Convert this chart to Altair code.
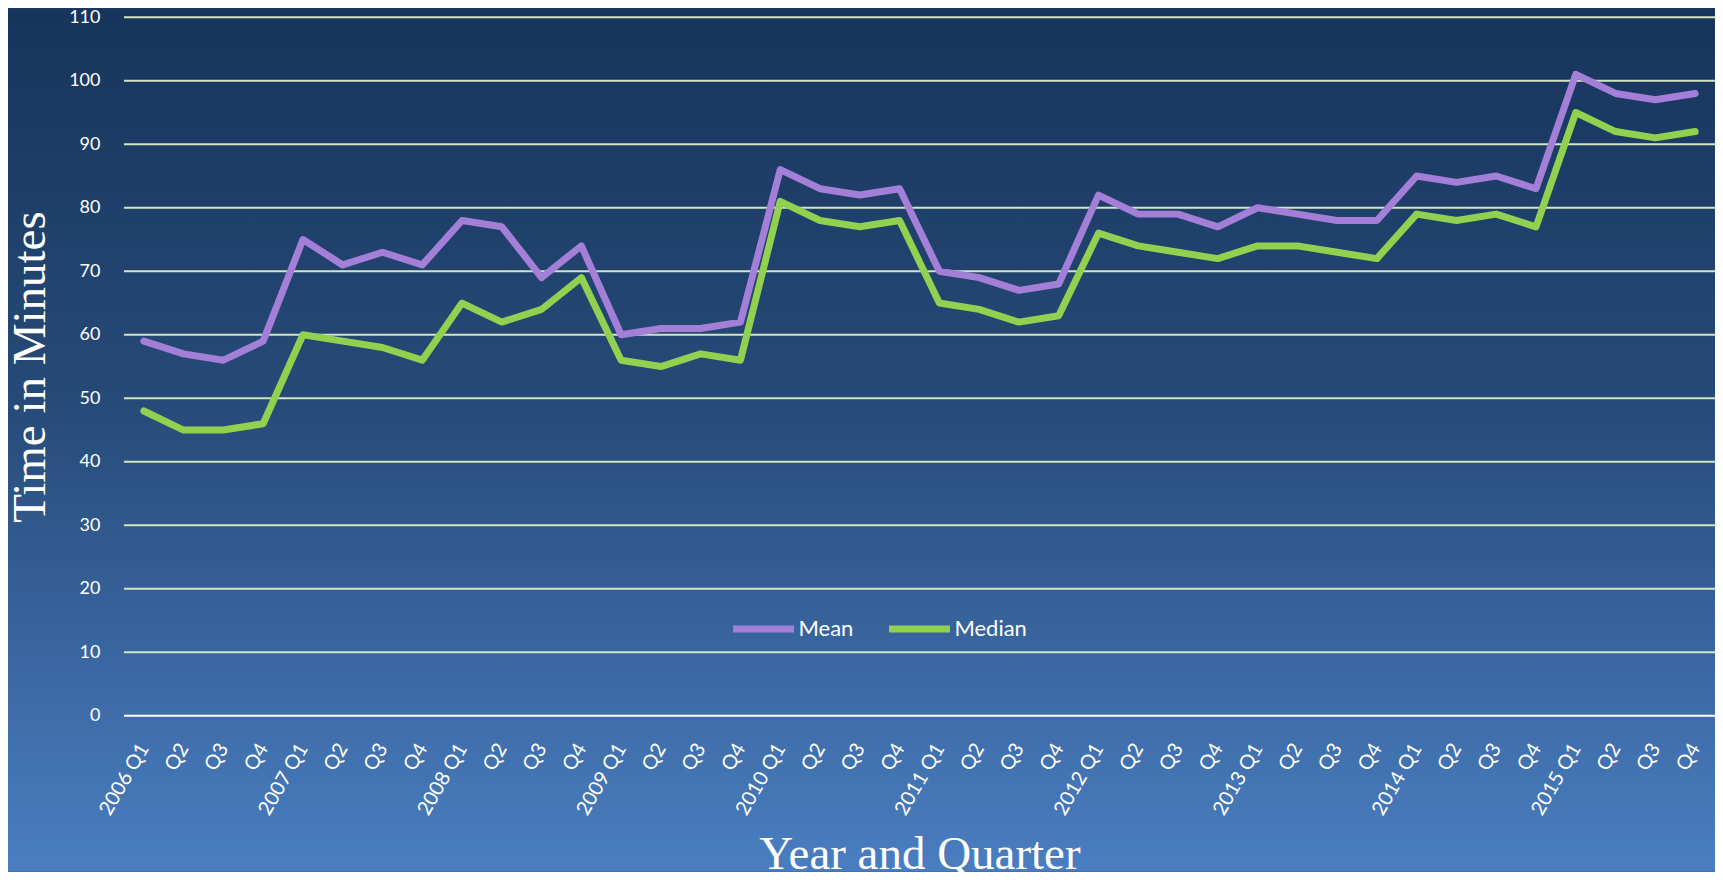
import altair as alt
import pandas as pd

years = ["2006", "2007", "2008", "2009", "2010", "2011", "2012", "2013", "2014", "2015"]
quarter_names = ["Q1", "Q2", "Q3", "Q4"]
periods = [f"{y} {q}" for y in years for q in quarter_names]

mean_minutes = [59, 57, 56, 59, 75, 71, 73, 71, 78, 77, 69, 74, 60, 61, 61, 62,
                86, 83, 82, 83, 70, 69, 67, 68, 82, 79, 79, 77, 80, 79, 78, 78,
                85, 84, 85, 83, 101, 98, 97, 98]
median_minutes = [48, 45, 45, 46, 60, 59, 58, 56, 65, 62, 64, 69, 56, 55, 57, 56,
                  81, 78, 77, 78, 65, 64, 62, 63, 76, 74, 73, 72, 74, 74, 73, 72,
                  79, 78, 79, 77, 95, 92, 91, 92]
series_names = ["Mean", "Median"]
series_colors = ["#A47FD8", "#92D050"]
y_ticks = list(range(0, 111, 10))

rows = []
for name, vals in zip(series_names, [mean_minutes, median_minutes]):
    for p, v in zip(periods, vals):
        rows.append({"period": p, "series": name, "minutes": v})
df = pd.DataFrame(rows)

W, H = 1592, 699
PAD_L, PAD_T, PAD_R, PAD_B = 116, 9, 0, 156

yscale = alt.Scale(domain=[0, 110], nice=False, zero=True)

yaxis = alt.Axis(
    values=y_ticks, title="Time in Minutes",
    labelFont="Lato", labelFontSize=18, labelColor="white", labelPadding=24,
    ticks=False, domain=False, grid=False,
    titleFont="Liberation Serif", titleFontSize=47, titleFontWeight="normal",
    titleColor="white", titleX=-79, titleBaseline="alphabetic", zindex=1,
)
xaxis = alt.Axis(
    title="Year and Quarter", labelAngle=-60,
    labelFont="Lato", labelFontSize=20, labelColor="white", labelPadding=29,
    labelExpr="indexof(datum.value, 'Q1') >= 0 ? datum.value : slice(datum.value, 5)",
    labelOverlap=False, ticks=False, domain=False, grid=False,
    titleFont="Liberation Serif", titleFontSize=47, titleFontWeight="normal",
    titleColor="white", titleY=153, titleBaseline="alphabetic", zindex=1,
)

gradient = {
    "gradient": "linear", "x1": 0, "y1": 0, "x2": 0, "y2": 1,
    "stops": [
        {"offset": 0, "color": "#17345B"},
        {"offset": 0.45, "color": "#264A78"},
        {"offset": 1, "color": "#4A7EC1"},
    ],
}

bg = alt.Chart(alt.Data(values=[{"a": 1}])).mark_rect(fill=gradient).encode(
    x=alt.value(-PAD_L), x2=alt.value(W + PAD_R),
    y=alt.value(-PAD_T), y2=alt.value(H + PAD_B),
)

grid = alt.Chart(pd.DataFrame({"minutes": y_ticks})).mark_rule(strokeWidth=2).encode(
    y=alt.Y("minutes:Q", scale=yscale, axis=yaxis),
    color=alt.condition("datum.minutes == 0", alt.value("#FFFFFF"), alt.value("#D3E5C2")),
)

lines = alt.Chart(df).mark_line(strokeWidth=7, strokeCap="round", strokeJoin="round").encode(
    x=alt.X("period:N", sort=periods, scale=alt.Scale(domain=periods), axis=xaxis),
    y=alt.Y("minutes:Q", scale=yscale, axis=yaxis),
    color=alt.Color(
        "series:N",
        scale=alt.Scale(domain=series_names, range=series_colors),
        legend=alt.Legend(
            title=None, orient="none", legendX=606, legendY=578,
            direction="horizontal", symbolType="stroke", symbolSize=3721,
            symbolStrokeWidth=7, labelFont="Lato", labelFontSize=22,
            labelColor="white", labelOffset=1, columnPadding=21, padding=0,
        ),
    ),
    detail="series:N",
)

chart = alt.layer(bg, grid, lines).properties(
    width=W, height=H,
    autosize=alt.AutoSizeParams(type="none"),
    padding={"left": PAD_L, "top": PAD_T, "right": PAD_R, "bottom": PAD_B},
    background="#264A78",
).configure_view(stroke=None)

chart.save("out.html", embed_options={"renderer": "svg", "actions": False})
